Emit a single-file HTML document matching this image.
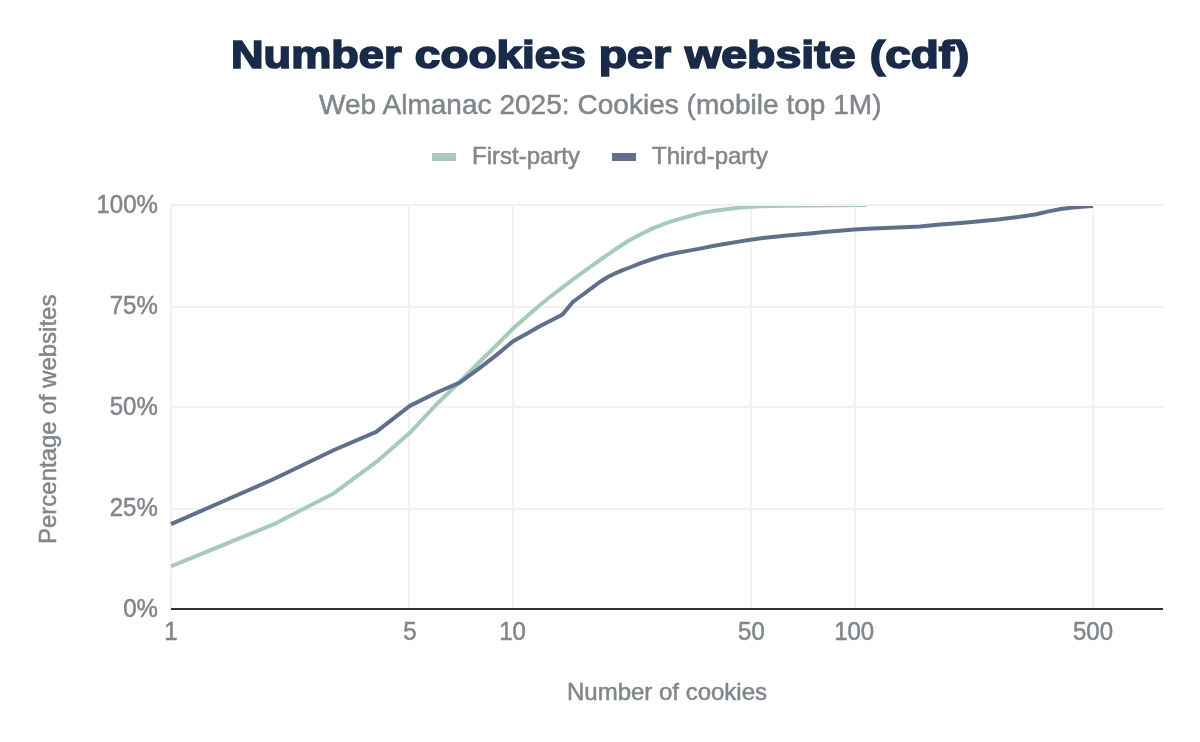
<!DOCTYPE html>
<html lang="en"><head><meta charset="utf-8"><title>Number cookies per website (cdf)</title>
<style>
html,body{margin:0;padding:0;background:#fff;}
body{width:1200px;height:742px;overflow:hidden;}
svg{display:block;font-family:"Liberation Sans",Arial,sans-serif;}
.t{fill:#80868b;font-size:24px;stroke:#80868b;stroke-width:0.5px;}
.title{font-weight:bold;font-size:38.5px;fill:#1a2b49;stroke:#1a2b49;stroke-width:1.7px;stroke-linejoin:miter;}
.sub{fill:#80868b;font-size:28px;stroke:#80868b;stroke-width:0.5px;}
</style></head><body>
<svg width="1200" height="742" viewBox="0 0 1200 742">
<rect width="1200" height="742" fill="#fff"/>
<defs><clipPath id="cp"><rect x="169" y="206" width="996" height="404"/></clipPath></defs>
<text class="title" y="68.0"><tspan x="231.0" textLength="170.49" lengthAdjust="spacingAndGlyphs">Number</tspan> <tspan x="414.86" textLength="170.95" lengthAdjust="spacingAndGlyphs">cookies</tspan> <tspan x="598.78" textLength="72.23" lengthAdjust="spacingAndGlyphs">per</tspan> <tspan x="685.1" textLength="170.47" lengthAdjust="spacingAndGlyphs">website</tspan> <tspan x="869.87" textLength="99.40" lengthAdjust="spacingAndGlyphs">(cdf)</tspan></text>
<text class="sub" x="600.3" y="114.4" text-anchor="middle" letter-spacing="0.03">Web Almanac 2025: Cookies (mobile top 1M)</text>
<rect x="432" y="153" width="24" height="8" fill="#a8caba"/>
<text class="t" x="472" y="164">First-party</text>
<rect x="612" y="153" width="24" height="8" fill="#60708b"/>
<text class="t" x="652" y="164">Third-party</text>
<g fill="#f2f2f2" shape-rendering="crispEdges">
<rect x="170" y="205" width="2" height="404"/>
<rect x="408" y="205" width="2" height="404"/>
<rect x="512" y="205" width="2" height="404"/>
<rect x="750" y="205" width="2" height="404"/>
<rect x="854" y="205" width="2" height="404"/>
<rect x="1092" y="205" width="2" height="404"/>
<rect x="171" y="204" width="992" height="2"/>
<rect x="171" y="306" width="992" height="2"/>
<rect x="171" y="406" width="992" height="2"/>
<rect x="171" y="508" width="992" height="2"/>
</g>
<rect x="171" y="608" width="992" height="2" fill="#333" shape-rendering="crispEdges"/>
<g clip-path="url(#cp)" fill="none" stroke-width="4" stroke-linejoin="round" stroke-linecap="butt">
<path d="M171.0,566.3 L273.8,524.2 L334.0,493.2 L376.7,461.7 L409.8,432.8 L436.8,404.0 L459.7,382.0 L479.5,362.0 L497.0,344.8 L512.6,328.9 L526.7,316.4 L539.7,305.3 L551.5,295.8 L562.5,287.3 L572.8,279.6 L582.3,272.7 L591.3,266.2 L599.8,260.2 L607.8,254.6 L615.4,249.3 L628.5,240.8 L640.7,234.3 L652.8,228.4 L664.9,223.6 L677.1,219.6 L689.2,216.3 L702.1,212.9 L714.3,210.7 L726.4,209.3 L738.5,207.8 L750.7,206.8 L762.8,206.2 L787.0,205.7 L810.0,205.4 L867.0,205.1" stroke="#a8caba"/>
<path d="M171.0,524.2 L273.8,479.0 L334.0,450.0 L376.2,431.8 L409.8,405.9 L436.8,392.5 L459.7,382.6 L479.5,368.2 L497.0,354.6 L512.6,341.6 L526.7,333.7 L539.7,326.3 L551.5,320.3 L562.5,314.5 L572.8,302.0 L582.3,295.0 L591.3,288.3 L599.8,282.0 L607.8,277.0 L615.4,273.3 L622.7,270.2 L628.5,268.0 L640.7,263.2 L652.8,259.0 L664.9,255.4 L677.1,252.8 L689.2,250.6 L700.0,248.6 L714.3,245.7 L738.5,241.6 L750.7,239.8 L762.8,238.1 L787.0,235.6 L810.0,233.5 L824.3,231.9 L854.6,229.6 L872.8,228.6 L897.1,227.6 L920.0,226.4 L940.0,224.6 L960.7,222.9 L980.0,221.2 L1000.0,219.3 L1020.0,216.8 L1036.4,214.2 L1048.5,211.4 L1060.7,209.0 L1072.8,207.6 L1085.0,206.4 L1093.0,206.0" stroke="#60708b"/>
</g>
<g class="t" text-anchor="end">
<text transform="translate(157.8 212.5) scale(1 1.05)">100%</text>
<text transform="translate(157.8 313.5) scale(1 1.05)">75%</text>
<text transform="translate(157.8 414.5) scale(1 1.05)">50%</text>
<text transform="translate(157.8 515.5) scale(1 1.05)">25%</text>
<text transform="translate(157.8 616.5) scale(1 1.05)">0%</text>
</g>
<g class="t" text-anchor="middle">
<text transform="translate(171.0 640.2) scale(1 1.05)">1</text>
<text transform="translate(409.8 640.2) scale(1 1.05)">5</text>
<text transform="translate(512.6 640.2) scale(1 1.05)">10</text>
<text transform="translate(751.4 640.2) scale(1 1.05)">50</text>
<text transform="translate(854.2 640.2) scale(1 1.05)">100</text>
<text transform="translate(1093.0 640.2) scale(1 1.05)">500</text>
</g>
<text class="t" x="667" y="700" text-anchor="middle">Number of cookies</text>
<text class="t" transform="translate(56.4 419.3) rotate(-90)" text-anchor="middle">Percentage of websites</text>
</svg></body></html>
